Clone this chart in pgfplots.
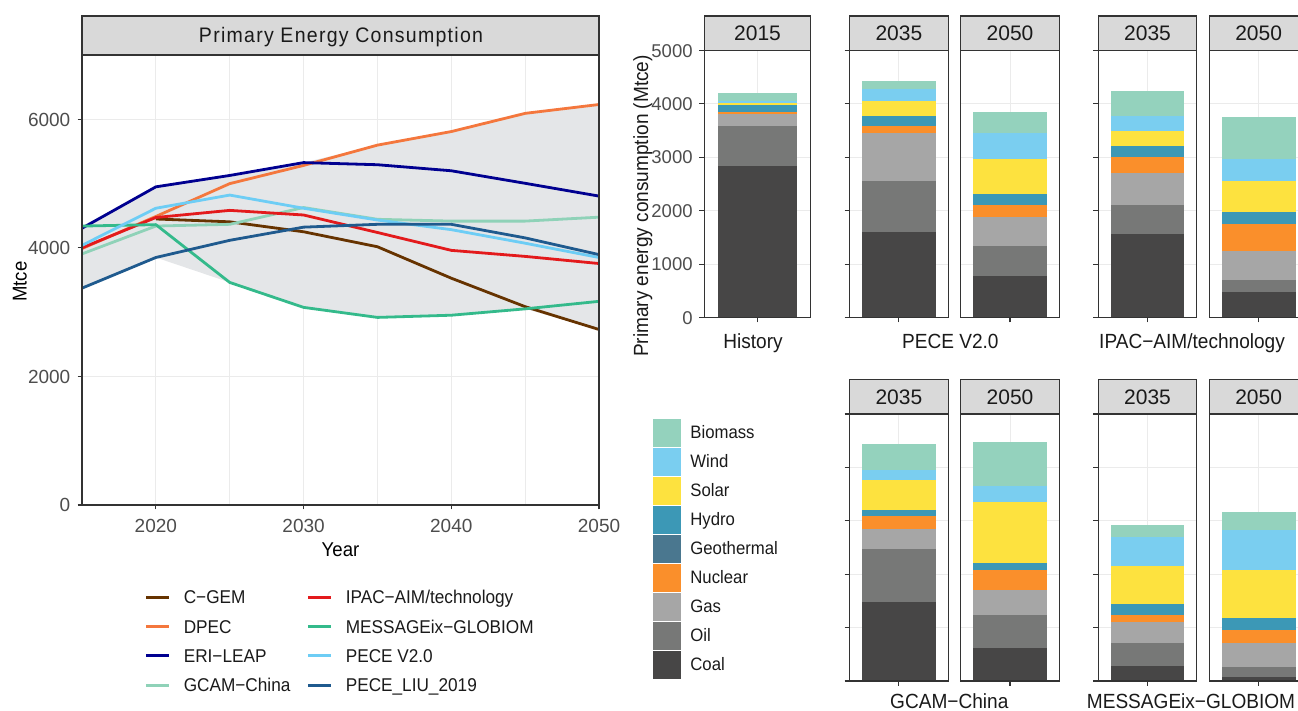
\documentclass[border=0pt]{standalone}
\usepackage{fontspec}
\setmainfont{Liberation Sans}
\newfontfamily\narrow{Liberation Sans}[FakeStretch=0.93]
\newfontfamily\spaced{Liberation Sans}[FakeStretch=0.93, LetterSpace=6]
\usepackage{pgfplots}
\pgfplotsset{compat=1.18}

\definecolor{frame}{HTML}{333333}
\definecolor{gridc}{HTML}{EBEBEB}
\definecolor{stripc}{HTML}{D9D9D9}
\definecolor{ticktxt}{HTML}{4D4D4D}
\definecolor{txt}{HTML}{1A1A1A}
\definecolor{shade}{HTML}{E4E6E8}
% models
\definecolor{cgem}{HTML}{663300}
\definecolor{dpec}{HTML}{F4773D}
\definecolor{erileap}{HTML}{000090}
\definecolor{gcam}{HTML}{8FD2B8}
\definecolor{ipac}{HTML}{E31A1C}
\definecolor{message}{HTML}{34BA8B}
\definecolor{pecev}{HTML}{6DCDF5}
\definecolor{peceliu}{HTML}{1F5A8E}
% fuels
\definecolor{coal}{HTML}{474646}
\definecolor{oil}{HTML}{777877}
\definecolor{gas}{HTML}{A6A6A6}
\definecolor{nuclear}{HTML}{FA8F2B}
\definecolor{geo}{HTML}{4A778F}
\definecolor{hydro}{HTML}{3C98B6}
\definecolor{solar}{HTML}{FDE23F}
\definecolor{wind}{HTML}{7ACEF0}
\definecolor{biomass}{HTML}{94D2BD}

\pgfplotsset{
  panel/.style={
    scale only axis, anchor=south west,
    axis line style={draw=frame, line width=1.1pt},
    tick style={draw=frame, line width=1.1pt},
    tick align=outside, xtick pos=left, ytick pos=left,
    major grid style={draw=gridc, line width=1pt},
    grid=major, scaled ticks=false,
    /pgf/number format/assume math mode=true,
    /pgf/number format/1000 sep={},
  },
  bars/.style={
    panel, ybar stacked, bar width=0.9,
    xmin=0.4, xmax=1.6, ymin=0, ymax=5000,
    xtick={1}, xticklabels={}, major tick length=5pt,
    ytick={0,1000,...,5000}, yticklabels={},
    width=98.6pt, height=267pt,
    every axis plot/.append style={draw=none},
  },
  noyticks/.style={ytick style={draw=none}},
  legendbox/.style={
    hide axis, scale only axis, width=1pt, height=1pt,
    xmin=0, xmax=1, ymin=0, ymax=1, anchor=south west,
    legend cell align=left,
    legend style={at={(0,0)}, anchor=north west, draw=none, fill=none,
      inner sep=0pt, outer sep=0pt, row sep=0pt, text=txt},
  },
  mline/.style={line width=2.8pt, line join=round},
}

% one stacked bar: coal, oil, gas, nuclear, geothermal, hydro, solar, wind, biomass
\newcommand\fuelstack[9]{%
  \addplot[fill=coal] coordinates {(1,#1)};
  \addplot[fill=oil] coordinates {(1,#2)};
  \addplot[fill=gas] coordinates {(1,#3)};
  \addplot[fill=nuclear] coordinates {(1,#4)};
  \addplot[fill=geo] coordinates {(1,#5)};
  \addplot[fill=hydro] coordinates {(1,#6)};
  \addplot[fill=solar] coordinates {(1,#7)};
  \addplot[fill=wind] coordinates {(1,#8)};
  \addplot[fill=biomass] coordinates {(1,#9)};
}

\newcommand\strip[4]{% x, width, bottom y, label
  \draw[fill=stripc, draw=frame, line width=1.1pt] (#1pt,#3pt) rectangle ++(#2pt,34.5pt);
  \node[anchor=base, inner sep=0pt, text=txt, font=\fontsize{21}{21}\selectfont]
    at ([xshift=#2pt/2, yshift=9.7pt]#1pt,#3pt) {#4};
}
\newcommand\frm[3]{% x, width, bottom y
  \draw[draw=frame, line width=1.1pt] (#1pt,#3pt) rectangle ++(#2pt,267pt);
}

\begin{document}
\begin{tikzpicture}
\useasboundingbox (0,0) rectangle (1298pt,711pt);
\clip (0,0) rectangle (1298pt,711pt);

% ---------------- left: totals by model ----------------
\begin{axis}[panel, at={(82pt,206pt)}, width=517pt, height=450pt,
  xmin=2015, xmax=2050, ymin=0, ymax=7000,
  xtick={2020,2030,2040,2050}, ytick={0,2000,4000,6000},
  minor xtick={2025,2035,2045}, grid=both,
  minor grid style={draw=gridc, line width=0.6pt}, minor tick length=0pt,
  major tick length=4.5pt,
  xticklabel style={font=\fontsize{19}{19}\selectfont, text=ticktxt, anchor=base, inner sep=0pt, yshift=-23.5pt},
  yticklabel style={font=\fontsize{19}{19}\selectfont, text=ticktxt, anchor=base east, inner sep=0pt, xshift=-7pt, yshift=-6.8pt},
]
% range of all models
\addplot[fill=shade, draw=none] coordinates {
  (2015,4339) (2020,4949) (2025,5126) (2030,5326) (2035,5598) (2040,5809) (2045,6092) (2050,6230)
  (2050,2730) (2045,3051) (2040,2952) (2035,2918) (2030,3074) (2025,3462) (2020,3850) (2015,3373)
} -- cycle;
\addplot[mline, cgem] coordinates {(2020,4449) (2025,4405) (2030,4250) (2035,4017) (2040,3528) (2045,3085) (2050,2730)};
\addplot[mline, dpec] coordinates {(2015,3989) (2020,4488) (2025,4999) (2030,5282) (2035,5598) (2040,5809) (2045,6092) (2050,6230)};
\addplot[mline, erileap] coordinates {(2015,4305) (2020,4949) (2025,5126) (2030,5326) (2035,5293) (2040,5199) (2045,5004) (2050,4805)};
\addplot[mline, gcam] coordinates {(2015,3906) (2020,4339) (2025,4366) (2030,4627) (2035,4444) (2040,4416) (2045,4416) (2050,4477)};
\addplot[mline, ipac] coordinates {(2015,4000) (2020,4472) (2025,4583) (2030,4511) (2035,4239) (2040,3961) (2045,3867) (2050,3756)};
\addplot[mline, message] coordinates {(2015,4339) (2020,4361) (2025,3462) (2030,3074) (2035,2918) (2040,2952) (2045,3051) (2050,3168)};
\addplot[mline, pecev] coordinates {(2015,4039) (2020,4616) (2025,4821) (2030,4616) (2035,4433) (2040,4283) (2045,4072) (2050,3850)};
\addplot[mline, peceliu] coordinates {(2015,3373) (2020,3850) (2025,4117) (2030,4322) (2035,4366) (2040,4366) (2045,4155) (2050,3895)};
\end{axis}
\draw[draw=frame, line width=1.1pt] (82pt,206pt) rectangle (599pt,656pt);
\draw[fill=stripc, draw=frame, line width=1.1pt] (82pt,656pt) rectangle (599pt,695pt);
\node[anchor=base, inner sep=0pt, text=txt, font=\spaced\fontsize{21}{21}\selectfont] at (341pt,668.8pt) {Primary Energy Consumption};
\node[anchor=base, inner sep=0pt, font=\narrow\fontsize{20}{20}\selectfont] at (340.5pt,154.3pt) {Year};
\node[anchor=base, inner sep=0pt, rotate=90, font=\narrow\fontsize{20}{20}\selectfont] at (26.7pt,429.3pt) {Mtce};

% legend for the lines, two columns
\pgfplotsset{linelegend/.style={legendbox,
  legend style={column sep=13pt, font=\narrow\fontsize{18.5}{18.5}\selectfont,
    nodes={inner sep=0pt, text height=13.3pt, text depth=0pt}},
  legend image code/.code={\path[draw=none, fill=none] (0pt,-14.65pt) rectangle (23pt,14.65pt);
    \draw[##1, line width=2.8pt] (0pt,0pt) -- (23pt,0pt);}}}
\begin{axis}[linelegend, at={(145pt,128.35pt)}]
\addlegendimage{cgem}\addlegendentry{C−GEM}
\addlegendimage{dpec}\addlegendentry{DPEC}
\addlegendimage{erileap}\addlegendentry{ERI−LEAP}
\addlegendimage{gcam}\addlegendentry{GCAM−China}
\end{axis}
\begin{axis}[linelegend, at={(307pt,128.35pt)}]
\addlegendimage{ipac}\addlegendentry{IPAC−AIM/technology}
\addlegendimage{message}\addlegendentry{MESSAGEix−GLOBIOM}
\addlegendimage{pecev}\addlegendentry{PECE V2.0}
\addlegendimage{peceliu}\addlegendentry{PECE\_LIU\_2019}
\end{axis}

% ---------------- right: fuel mix by model and year ----------------
% top row
\begin{axis}[bars, at={(704.3pt,393.5pt)}, width=106.4pt,
  yticklabels={0,1000,2000,3000,4000,5000},
  yticklabel style={font=\fontsize{18.5}{18.5}\selectfont, text=ticktxt, anchor=base east, inner sep=0pt, xshift=-6.5pt, yshift=-6.6pt}]
\fuelstack{2830}{765}{225}{37}{0}{130}{30}{45}{150}
\end{axis}
\begin{axis}[bars, at={(849.6pt,393.5pt)}]
\fuelstack{1606}{957}{887}{144}{0}{175}{281}{231}{157}
\end{axis}
\begin{axis}[bars, noyticks, at={(960.7pt,393.5pt)}]
\fuelstack{781}{563}{531}{238}{0}{206}{656}{488}{393}
\end{axis}
\begin{axis}[bars, at={(1098.2pt,393.5pt)}]
\fuelstack{1556}{550}{607}{300}{0}{206}{281}{281}{469}
\end{axis}
\begin{axis}[bars, noyticks, at={(1209.3pt,393.5pt)}]
\fuelstack{469}{237}{532}{518}{0}{213}{581}{425}{788}
\end{axis}
% bottom row
\begin{axis}[bars, at={(849.6pt,30pt)}]
\fuelstack{1483}{984}{374}{249}{0}{112}{555}{187}{486}
\end{axis}
\begin{axis}[bars, noyticks, at={(960.7pt,30pt)}]
\fuelstack{623}{611}{473}{368}{0}{131}{1140}{305}{816}
\end{axis}
\begin{axis}[bars, at={(1098.2pt,30pt)}]
\fuelstack{280}{430}{399}{125}{0}{211}{711}{536}{224}
\end{axis}
\begin{axis}[bars, noyticks, at={(1209.3pt,30pt)}]
\fuelstack{81}{181}{448}{243}{0}{231}{891}{760}{324}
\end{axis}

% frames and strips
\frm{704.3}{106.4}{393.5}\strip{704.3}{106.4}{660.5}{2015}
\frm{849.6}{98.6}{393.5}\strip{849.6}{98.6}{660.5}{2035}
\frm{960.7}{98.6}{393.5}\strip{960.7}{98.6}{660.5}{2050}
\frm{1098.2}{98.6}{393.5}\strip{1098.2}{98.6}{660.5}{2035}
\frm{1209.3}{98.6}{393.5}\strip{1209.3}{98.6}{660.5}{2050}
\frm{849.6}{98.6}{30}\strip{849.6}{98.6}{297}{2035}
\frm{960.7}{98.6}{30}\strip{960.7}{98.6}{297}{2050}
\frm{1098.2}{98.6}{30}\strip{1098.2}{98.6}{297}{2035}
\frm{1209.3}{98.6}{30}\strip{1209.3}{98.6}{297}{2050}

\begin{scope}[every node/.style={anchor=base, inner sep=0pt, text=txt, font=\narrow\fontsize{20.5}{20.5}\selectfont}]
\node at (753pt,362.7pt) {History};
\node at (950.3pt,362.7pt) {PECE V2.0};
\node at (1192pt,362.7pt) {IPAC−AIM/technology};
\node at (949.3pt,2.5pt) {GCAM−China};
\node at (1191pt,2.5pt) {MESSAGEix−GLOBIOM};
\end{scope}
\node[anchor=base, inner sep=0pt, rotate=90, text=txt, font=\narrow\fontsize{20.5}{20.5}\selectfont] at (648pt,505pt) {Primary energy consumption (Mtce)};

% legend for the fuels
\begin{axis}[legendbox, at={(653pt,293pt)},
  legend style={column sep=10pt, font=\narrow\fontsize{18}{18}\selectfont,
    nodes={inner sep=0pt, text height=12.9pt, text depth=0pt}},
  reverse legend,
  legend image code/.code={\path[draw=none, fill=none] (0pt,-14.5pt) rectangle (27pt,14.5pt);
    \fill[#1] (0pt,-13.5pt) rectangle (27pt,13.5pt);}]
\addlegendimage{coal}\addlegendentry{Coal}
\addlegendimage{oil}\addlegendentry{Oil}
\addlegendimage{gas}\addlegendentry{Gas}
\addlegendimage{nuclear}\addlegendentry{Nuclear}
\addlegendimage{geo}\addlegendentry{Geothermal}
\addlegendimage{hydro}\addlegendentry{Hydro}
\addlegendimage{solar}\addlegendentry{Solar}
\addlegendimage{wind}\addlegendentry{Wind}
\addlegendimage{biomass}\addlegendentry{Biomass}
\end{axis}
\end{tikzpicture}
\end{document}
